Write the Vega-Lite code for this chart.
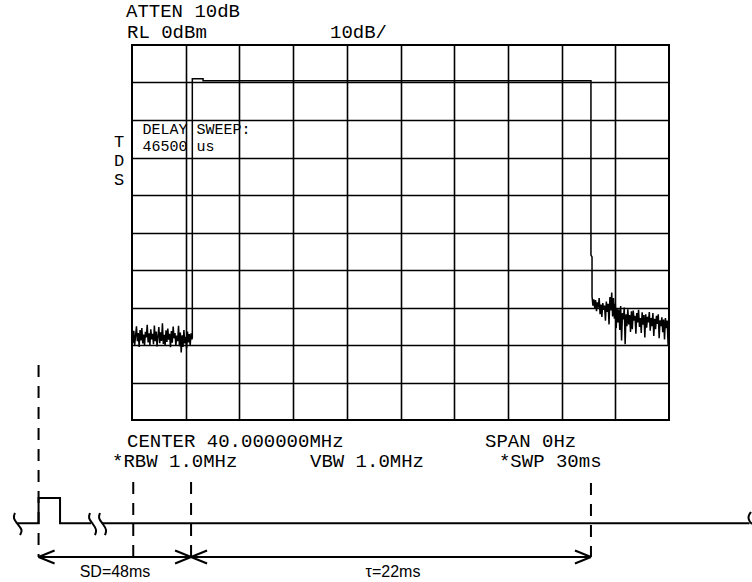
{
  "$schema": "https://vega.github.io/schema/vega-lite/v6.json",
  "autosize": {"type": "none"},
  "padding": {"left": 132, "top": 45, "right": 83, "bottom": 162},
  "width": 537,
  "height": 375,
  "background": "white",
  "config": {
    "view": {"stroke": "black", "strokeWidth": 2},
    "axis": {"grid": true, "gridColor": "black", "gridOpacity": 1, "gridWidth": 1.6, "labels": false, "ticks": false, "domain": false, "title": null}
  },
  "datasets": {
    "trace": [
      {"i": 0, "t": 0.0, "db": -77.0}, {"i": 1, "t": 0.05, "db": -79.5}, {"i": 2, "t": 0.1, "db": -76.2}, {"i": 3, "t": 0.15, "db": -80.0},
      {"i": 4, "t": 0.2, "db": -77.5}, {"i": 5, "t": 0.25, "db": -75.0}, {"i": 6, "t": 0.3, "db": -79.0}, {"i": 7, "t": 0.35, "db": -76.8},
      {"i": 8, "t": 0.4, "db": -80.5}, {"i": 9, "t": 0.45, "db": -76.0}, {"i": 10, "t": 0.5, "db": -78.8}, {"i": 11, "t": 0.55, "db": -75.5},
      {"i": 12, "t": 0.6, "db": -79.6}, {"i": 13, "t": 0.65, "db": -77.2}, {"i": 14, "t": 0.7, "db": -80.2}, {"i": 15, "t": 0.75, "db": -76.5},
      {"i": 16, "t": 0.8, "db": -78.0}, {"i": 17, "t": 0.85, "db": -74.6}, {"i": 18, "t": 0.9, "db": -79.3}, {"i": 19, "t": 0.95, "db": -76.9},
      {"i": 20, "t": 1.0, "db": -80.0}, {"i": 21, "t": 1.05, "db": -75.8}, {"i": 22, "t": 1.1, "db": -78.5}, {"i": 23, "t": 1.15, "db": -77.0},
      {"i": 24, "t": 1.2, "db": -79.8}, {"i": 25, "t": 1.25, "db": -74.8}, {"i": 26, "t": 1.3, "db": -79.0}, {"i": 27, "t": 1.35, "db": -76.4},
      {"i": 28, "t": 1.4, "db": -80.4}, {"i": 29, "t": 1.45, "db": -77.6}, {"i": 30, "t": 1.5, "db": -75.2}, {"i": 31, "t": 1.55, "db": -79.5},
      {"i": 32, "t": 1.6, "db": -76.6}, {"i": 33, "t": 1.65, "db": -78.9}, {"i": 34, "t": 1.7, "db": -74.2}, {"i": 35, "t": 1.75, "db": -79.7},
      {"i": 36, "t": 1.8, "db": -77.3}, {"i": 37, "t": 1.85, "db": -80.1}, {"i": 38, "t": 1.9, "db": -76.1}, {"i": 39, "t": 1.95, "db": -79.2},
      {"i": 40, "t": 2.0, "db": -75.6}, {"i": 41, "t": 2.05, "db": -78.6}, {"i": 42, "t": 2.1, "db": -77.0}, {"i": 43, "t": 2.15, "db": -80.6},
      {"i": 44, "t": 2.2, "db": -76.3}, {"i": 45, "t": 2.25, "db": -79.4}, {"i": 46, "t": 2.3, "db": -75.1}, {"i": 47, "t": 2.35, "db": -78.2},
      {"i": 48, "t": 2.4, "db": -76.8}, {"i": 49, "t": 2.45, "db": -80.2}, {"i": 50, "t": 2.5, "db": -77.5}, {"i": 51, "t": 2.55, "db": -79.0},
      {"i": 52, "t": 2.6, "db": -74.9}, {"i": 53, "t": 2.65, "db": -80.3}, {"i": 54, "t": 2.7, "db": -76.7}, {"i": 55, "t": 2.75, "db": -82.0},
      {"i": 56, "t": 2.8, "db": -77.4}, {"i": 57, "t": 2.85, "db": -80.5}, {"i": 58, "t": 2.9, "db": -76.0}, {"i": 59, "t": 2.95, "db": -79.6},
      {"i": 60, "t": 3.0, "db": -77.8}, {"i": 61, "t": 3.05, "db": -80.9}, {"i": 62, "t": 3.1, "db": -76.4}, {"i": 63, "t": 3.15, "db": -79.3},
      {"i": 64, "t": 3.2, "db": -77.1}, {"i": 65, "t": 3.25, "db": -80.2}, {"i": 66, "t": 3.3, "db": -76.9}, {"i": 67, "t": 3.35, "db": -78.5},
      {"i": 68, "t": 3.37, "db": -78.0},
      {"i": 69, "t": 3.37, "db": -9.0}, {"i": 70, "t": 3.97, "db": -9.0}, {"i": 71, "t": 3.97, "db": -9.5},
      {"i": 72, "t": 25.64, "db": -9.5}, {"i": 73, "t": 25.64, "db": -56.0}, {"i": 74, "t": 25.7, "db": -56.5},
      {"i": 75, "t": 25.7, "db": -67.0}, {"i": 76, "t": 25.75, "db": -69.5}, {"i": 77, "t": 25.8, "db": -67.8}, {"i": 78, "t": 25.85, "db": -70.2},
      {"i": 79, "t": 25.9, "db": -68.0}, {"i": 80, "t": 25.95, "db": -71.0}, {"i": 81, "t": 26.0, "db": -68.6}, {"i": 82, "t": 26.05, "db": -70.0},
      {"i": 83, "t": 26.1, "db": -67.5}, {"i": 84, "t": 26.15, "db": -71.8}, {"i": 85, "t": 26.2, "db": -69.2}, {"i": 86, "t": 26.25, "db": -72.5},
      {"i": 87, "t": 26.3, "db": -68.8}, {"i": 88, "t": 26.35, "db": -70.6}, {"i": 89, "t": 26.4, "db": -69.5}, {"i": 90, "t": 26.45, "db": -73.5},
      {"i": 91, "t": 26.5, "db": -68.4}, {"i": 92, "t": 26.55, "db": -71.2}, {"i": 93, "t": 26.6, "db": -69.0}, {"i": 94, "t": 26.65, "db": -74.5},
      {"i": 95, "t": 26.7, "db": -67.2}, {"i": 96, "t": 26.75, "db": -70.8}, {"i": 97, "t": 26.8, "db": -66.0}, {"i": 98, "t": 26.85, "db": -72.4},
      {"i": 99, "t": 26.9, "db": -67.5}, {"i": 100, "t": 26.95, "db": -73.0}, {"i": 101, "t": 27.0, "db": -69.0}, {"i": 102, "t": 27.05, "db": -75.5},
      {"i": 103, "t": 27.1, "db": -70.2}, {"i": 104, "t": 27.15, "db": -74.0}, {"i": 105, "t": 27.2, "db": -70.5}, {"i": 106, "t": 27.25, "db": -76.0},
      {"i": 107, "t": 27.3, "db": -69.6}, {"i": 108, "t": 27.35, "db": -78.8}, {"i": 109, "t": 27.4, "db": -71.5}, {"i": 110, "t": 27.45, "db": -73.2},
      {"i": 111, "t": 27.5, "db": -70.0}, {"i": 112, "t": 27.55, "db": -79.8}, {"i": 113, "t": 27.6, "db": -71.8}, {"i": 114, "t": 27.65, "db": -75.0},
      {"i": 115, "t": 27.7, "db": -70.5}, {"i": 116, "t": 27.75, "db": -74.5}, {"i": 117, "t": 27.8, "db": -72.0}, {"i": 118, "t": 27.85, "db": -76.5},
      {"i": 119, "t": 27.9, "db": -71.0}, {"i": 120, "t": 27.95, "db": -75.8}, {"i": 121, "t": 28.0, "db": -70.8}, {"i": 122, "t": 28.05, "db": -73.5},
      {"i": 123, "t": 28.1, "db": -72.2}, {"i": 124, "t": 28.15, "db": -77.0}, {"i": 125, "t": 28.2, "db": -71.5}, {"i": 126, "t": 28.25, "db": -74.0},
      {"i": 127, "t": 28.3, "db": -70.6}, {"i": 128, "t": 28.35, "db": -75.2}, {"i": 129, "t": 28.4, "db": -72.8}, {"i": 130, "t": 28.45, "db": -76.8},
      {"i": 131, "t": 28.5, "db": -71.3}, {"i": 132, "t": 28.55, "db": -74.6}, {"i": 133, "t": 28.6, "db": -72.0}, {"i": 134, "t": 28.65, "db": -78.0},
      {"i": 135, "t": 28.7, "db": -71.8}, {"i": 136, "t": 28.75, "db": -75.4}, {"i": 137, "t": 28.8, "db": -72.5}, {"i": 138, "t": 28.85, "db": -74.0},
      {"i": 139, "t": 28.9, "db": -71.2}, {"i": 140, "t": 28.95, "db": -76.2}, {"i": 141, "t": 29.0, "db": -72.8}, {"i": 142, "t": 29.05, "db": -75.0},
      {"i": 143, "t": 29.1, "db": -71.5}, {"i": 144, "t": 29.15, "db": -77.6}, {"i": 145, "t": 29.2, "db": -73.0}, {"i": 146, "t": 29.25, "db": -75.8},
      {"i": 147, "t": 29.3, "db": -72.2}, {"i": 148, "t": 29.35, "db": -74.4}, {"i": 149, "t": 29.4, "db": -71.8}, {"i": 150, "t": 29.45, "db": -78.2},
      {"i": 151, "t": 29.5, "db": -73.4}, {"i": 152, "t": 29.55, "db": -75.0}, {"i": 153, "t": 29.6, "db": -72.6}, {"i": 154, "t": 29.65, "db": -76.6},
      {"i": 155, "t": 29.7, "db": -73.2}, {"i": 156, "t": 29.75, "db": -78.5}, {"i": 157, "t": 29.8, "db": -72.8}, {"i": 158, "t": 29.85, "db": -75.5},
      {"i": 159, "t": 29.9, "db": -73.5}, {"i": 160, "t": 29.95, "db": -80.0}, {"i": 161, "t": 30.0, "db": -76.5}
    ],
    "wave": [
      {"seg": "a", "i": 0, "t": -6.4, "db": -127.5}, {"seg": "a", "i": 1, "t": -5.22, "db": -127.5},
      {"seg": "a", "i": 2, "t": -5.22, "db": -120.8}, {"seg": "a", "i": 3, "t": -4.02, "db": -120.8},
      {"seg": "a", "i": 4, "t": -4.02, "db": -127.5}, {"seg": "a", "i": 5, "t": -2.29, "db": -127.5},
      {"seg": "b", "i": 0, "t": -1.68, "db": -127.5}, {"seg": "b", "i": 1, "t": 34.5, "db": -127.5}
    ],
    "squiggle": [
      {"seg": "s1", "i": 0, "t": -6.536, "db": -124.8}, {"seg": "s1", "i": 1, "t": -6.665, "db": -126.13}, {"seg": "s1", "i": 2, "t": -6.352, "db": -128.0}, {"seg": "s1", "i": 3, "t": -6.106, "db": -129.33}, {"seg": "s1", "i": 4, "t": -6.257, "db": -130.67},
      {"seg": "s2", "i": 0, "t": -2.346, "db": -124.8}, {"seg": "s2", "i": 1, "t": -2.458, "db": -126.13}, {"seg": "s2", "i": 2, "t": -2.179, "db": -127.73}, {"seg": "s2", "i": 3, "t": -1.955, "db": -129.33}, {"seg": "s2", "i": 4, "t": -2.067, "db": -130.67},
      {"seg": "s3", "i": 0, "t": -1.788, "db": -124.8}, {"seg": "s3", "i": 1, "t": -1.899, "db": -126.13}, {"seg": "s3", "i": 2, "t": -1.62, "db": -127.73}, {"seg": "s3", "i": 3, "t": -1.397, "db": -129.33}, {"seg": "s3", "i": 4, "t": -1.508, "db": -130.67},
      {"seg": "s4", "i": 0, "t": 34.581, "db": -124.53}, {"seg": "s4", "i": 1, "t": 34.413, "db": -125.6}, {"seg": "s4", "i": 2, "t": 34.469, "db": -126.93}, {"seg": "s4", "i": 3, "t": 34.637, "db": -127.73}
    ],
    "dashed": [
      {"t": -5.22, "db": -85.33, "db2": -136.53},
      {"t": 0.07, "db": -116.53, "db2": -136.53},
      {"t": 3.3, "db": -116.53, "db2": -136.53},
      {"t": 25.64, "db": -116.8, "db2": -136.53}
    ],
    "segments": [
      {"t": -5.22, "db": -136.53, "t2": 3.3, "db2": -136.53},
      {"t": 3.3, "db": -136.53, "t2": 25.64, "db2": -136.53},
      {"t": -5.22, "db": -136.53, "t2": -4.326, "db2": -134.8},
      {"t": -5.22, "db": -136.53, "t2": -4.326, "db2": -138.26},
      {"t": 3.3, "db": -136.53, "t2": 2.406, "db2": -134.8},
      {"t": 3.3, "db": -136.53, "t2": 2.406, "db2": -138.26},
      {"t": 3.3, "db": -136.53, "t2": 4.194, "db2": -134.8},
      {"t": 3.3, "db": -136.53, "t2": 4.194, "db2": -138.26},
      {"t": 25.64, "db": -136.53, "t2": 24.746, "db2": -134.8},
      {"t": 25.64, "db": -136.53, "t2": 24.746, "db2": -138.26}
    ],
    "labels": [
      {"label": "ATTEN 10dB", "t": -0.335, "db": 7.47},
      {"label": "RL 0dBm", "t": -0.28, "db": 1.87},
      {"label": "10dB/", "t": 11.06, "db": 1.87},
      {"label": "CENTER 40.000000MHz", "t": -0.28, "db": -107.2},
      {"label": "*RBW 1.0MHz", "t": -1.117, "db": -112.53},
      {"label": "VBW 1.0MHz", "t": 9.944, "db": -112.53},
      {"label": "SPAN 0Hz", "t": 19.72, "db": -107.2},
      {"label": "*SWP 30ms", "t": 20.5, "db": -112.53}
    ],
    "delay": [
      {"label": "DELAY SWEEP:\n46500 us", "t": 0.587, "db": -23.6}
    ],
    "side": [
      {"label": "T\nD\nS", "t": -0.726, "db": -27.2}
    ],
    "notes": [
      {"label": "SD=48ms", "t": -0.95, "db": -141.87},
      {"label": "τ=22ms", "t": 14.58, "db": -141.87}
    ]
  },
  "encoding": {
    "x": {"field": "t", "type": "quantitative", "scale": {"domain": [0, 30], "nice": false, "zero": false}, "axis": {"values": [3, 6, 9, 12, 15, 18, 21, 24, 27]}},
    "y": {"field": "db", "type": "quantitative", "scale": {"domain": [-100, 0], "nice": false, "zero": false}, "axis": {"values": [-90, -80, -70, -60, -50, -40, -30, -20, -10]}}
  },
  "layer": [
    {
      "data": {"name": "trace"},
      "mark": {"type": "line", "color": "black", "strokeWidth": 1.5},
      "encoding": {"order": {"field": "i", "type": "quantitative"}}
    },
    {
      "data": {"name": "wave"},
      "mark": {"type": "line", "color": "black", "strokeWidth": 2},
      "encoding": {"detail": {"field": "seg"}, "order": {"field": "i", "type": "quantitative"}}
    },
    {
      "data": {"name": "squiggle"},
      "mark": {"type": "line", "color": "black", "strokeWidth": 2, "interpolate": "basis"},
      "encoding": {"detail": {"field": "seg"}, "order": {"field": "i", "type": "quantitative"}}
    },
    {
      "data": {"name": "dashed"},
      "mark": {"type": "rule", "color": "black", "strokeWidth": 2, "strokeDash": [12, 9]},
      "encoding": {"y2": {"field": "db2"}}
    },
    {
      "data": {"name": "segments"},
      "mark": {"type": "rule", "color": "black", "strokeWidth": 2},
      "encoding": {"x2": {"field": "t2"}, "y2": {"field": "db2"}}
    },
    {
      "data": {"name": "labels"},
      "mark": {"type": "text", "align": "left", "baseline": "alphabetic", "font": "Liberation Mono", "fontSize": 19, "color": "black"},
      "encoding": {"text": {"field": "label"}}
    },
    {
      "data": {"name": "delay"},
      "mark": {"type": "text", "align": "left", "baseline": "alphabetic", "font": "Liberation Mono", "fontSize": 15, "lineBreak": "\n", "lineHeight": 17, "color": "black"},
      "encoding": {"text": {"field": "label"}}
    },
    {
      "data": {"name": "side"},
      "mark": {"type": "text", "align": "center", "baseline": "alphabetic", "font": "Liberation Mono", "fontSize": 17, "lineBreak": "\n", "lineHeight": 19, "color": "black"},
      "encoding": {"text": {"field": "label"}}
    },
    {
      "data": {"name": "notes"},
      "mark": {"type": "text", "align": "center", "baseline": "alphabetic", "font": "Liberation Sans", "fontSize": 16, "color": "black"},
      "encoding": {"text": {"field": "label"}}
    }
  ]
}
